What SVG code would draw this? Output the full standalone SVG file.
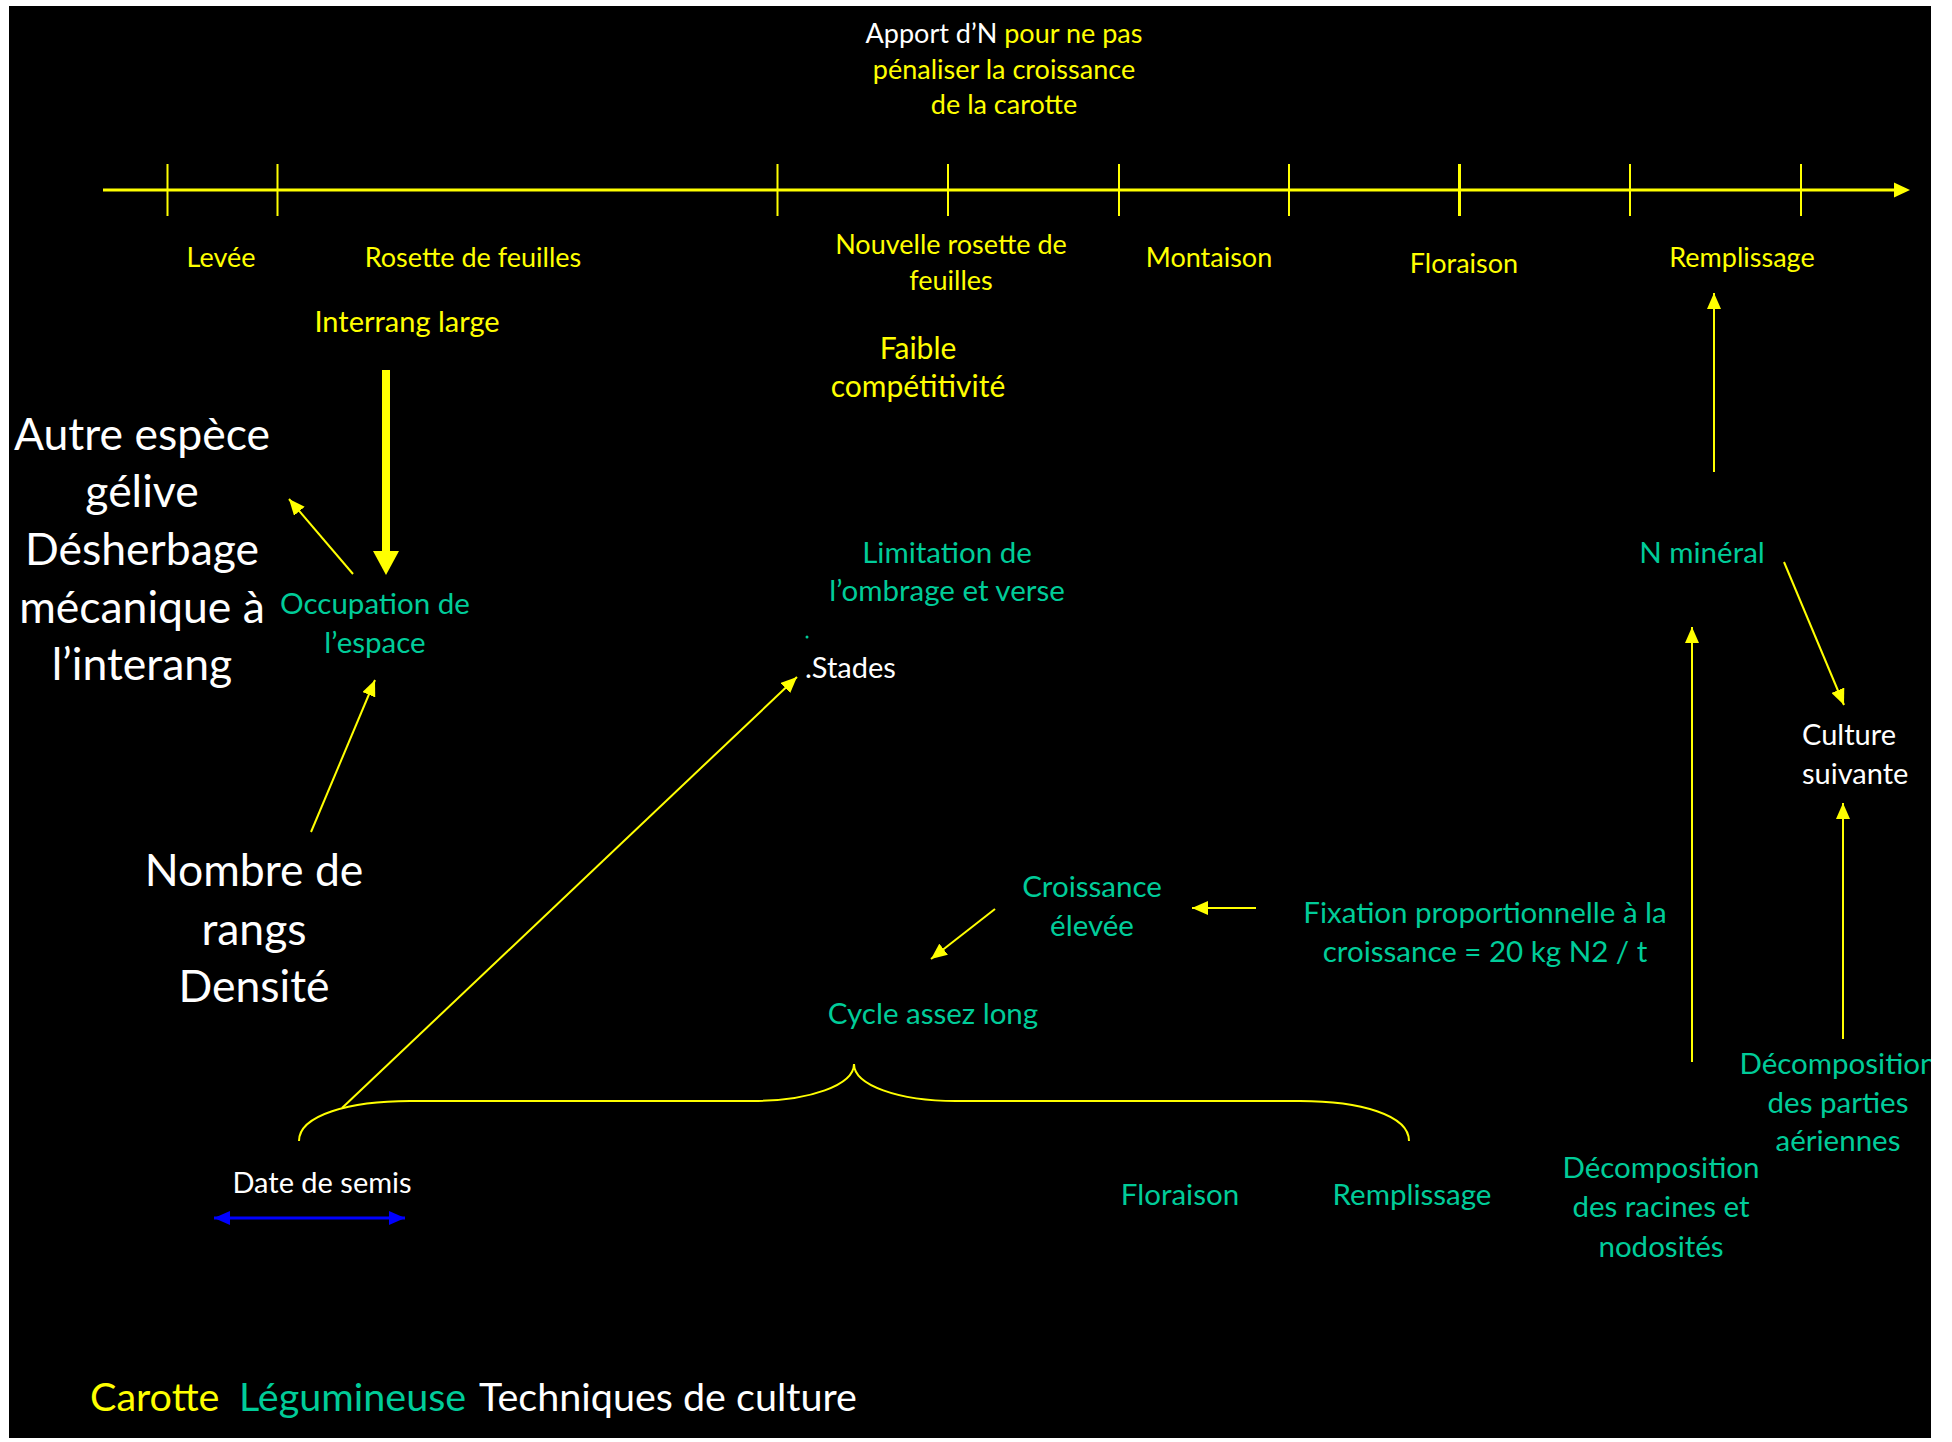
<svg xmlns="http://www.w3.org/2000/svg" width="1952" height="1442" viewBox="0 0 1952 1442">
<defs>
<style>
text{font-family:Lato,"Liberation Sans",sans-serif;}
.y{fill:#FFFF00;}
.g{fill:#00CC99;}
.w{fill:#FFFFFF;}
.c{text-anchor:middle;}
.s27{font-size:27px;}
.s29{font-size:29px;}
.s295{font-size:29.5px;}
.s30{font-size:30px;}
.big{font-size:44.5px;}
.leg{font-size:39.5px;}
.ln{stroke:#FFFF00;stroke-width:2;fill:none;}
</style>
<clipPath id="slide"><rect x="9" y="6" width="1922" height="1432"/></clipPath>
<marker id="ah" viewBox="0 0 16 14" refX="16" refY="7" markerWidth="16" markerHeight="14" orient="auto" markerUnits="userSpaceOnUse"><path d="M0,0 L16,7 L0,14 z" fill="#FFFF00"/></marker>
<marker id="ahb" viewBox="0 0 16 14" refX="16" refY="7" markerWidth="16" markerHeight="14" orient="auto-start-reverse" markerUnits="userSpaceOnUse"><path d="M0,0 L16,7 L0,14 z" fill="#0000FF"/></marker>
</defs>
<rect x="0" y="0" width="1952" height="1442" fill="#FFFFFF"/>
<rect x="9" y="6" width="1922" height="1432" fill="#000000"/>
<g clip-path="url(#slide)">
<g id="timeline">
<line x1="103" y1="190" x2="1896" y2="190" stroke="#FFFF00" stroke-width="3"/>
<path d="M1894,182.5 L1910,190 L1894,197.5 z" fill="#FFFF00"/>
<g stroke="#FFFF00" stroke-width="2">
<line x1="167.5" y1="164" x2="167.5" y2="216"/>
<line x1="277.5" y1="164" x2="277.5" y2="216"/>
<line x1="777.5" y1="164" x2="777.5" y2="216"/>
<line x1="948" y1="164" x2="948" y2="216"/>
<line x1="1119" y1="164" x2="1119" y2="216"/>
<line x1="1289" y1="164" x2="1289" y2="216"/>
<line x1="1459.5" y1="164" x2="1459.5" y2="216" stroke-width="3"/>
<line x1="1630" y1="164" x2="1630" y2="216"/>
<line x1="1801" y1="164" x2="1801" y2="216"/>
</g>
</g>
<g id="apport"><text class="c s27" x="1004" y="43"><tspan class="w">Apport d’N </tspan><tspan class="y">pour ne pas</tspan></text>
<text class="y c s27" x="1004" y="79">pénaliser la croissance</text>
<text class="y c s27" x="1004" y="114">de la carotte</text></g>
<g id="levee"><text class="y c s27" x="221" y="267">Levée</text></g>
<g id="rosette"><text class="y c s27" x="473" y="267">Rosette de feuilles</text></g>
<g id="nouvelle"><text class="y c s27" x="951" y="254">Nouvelle rosette de</text><text class="y c s27" x="951" y="290">feuilles</text></g>
<g id="montaison"><text class="y c s27" x="1209" y="267">Montaison</text></g>
<g id="floraison-c"><text class="y c s27" x="1464" y="273">Floraison</text></g>
<g id="remplissage-c"><text class="y c s27" x="1742" y="267">Remplissage</text></g>
<g id="interrang"><text class="y c s29" x="407" y="332">Interrang large</text></g>
<g id="faible"><text class="y c s30" x="918" y="359">Faible</text><text class="y c s30" x="918" y="397">compétitivité</text></g>
<g id="autre"><text class="w c big" x="142" y="450">Autre espèce</text>
<text class="w c big" x="142" y="507">gélive</text>
<text class="w c big" x="142" y="565">Désherbage</text>
<text class="w c big" x="142" y="623">mécanique à</text>
<text class="w c big" x="142" y="680">l’interang</text></g>
<g id="occupation"><text class="g c s295" x="375" y="614">Occupation de</text><text class="g c s295" x="375" y="653">l’espace</text></g>
<g id="nombre"><text class="w c big" x="254" y="886">Nombre de</text><text class="w c big" x="254" y="945">rangs</text><text class="w c big" x="254" y="1002">Densité</text></g>
<g id="limitation"><text class="g c s295" x="947" y="563">Limitation de</text><text class="g c s295" x="947" y="601">l’ombrage et verse</text></g>
<g id="stades"><circle cx="807" cy="637" r="1.5" fill="#00CC99"/><text class="w s29" x="805" y="678">.Stades</text></g>
<g id="croissance"><text class="g c s295" x="1092" y="897">Croissance</text><text class="g c s295" x="1092" y="936">élevée</text></g>
<g id="fixation"><text class="g c s295" x="1485" y="923">Fixation proportionnelle à la</text><text class="g c s295" x="1485" y="962">croissance = 20 kg N2 / t</text></g>
<g id="cycle"><text class="g c s295" x="933" y="1024">Cycle assez long</text></g>
<g id="date"><text class="w c s29" x="322" y="1193">Date de semis</text></g>
<g id="floraison-l"><text class="g c s295" x="1180" y="1205">Floraison</text></g>
<g id="remplissage-l"><text class="g c s295" x="1412" y="1205">Remplissage</text></g>
<g id="nmineral"><text class="g c s295" x="1702" y="563">N minéral</text></g>
<g id="culture"><text class="w s29" x="1802" y="745">Culture</text><text class="w s29" x="1802" y="784">suivante</text></g>
<g id="decomp-parties"><text class="g c s295" x="1838" y="1074">Décomposition</text><text class="g c s295" x="1838" y="1113">des parties</text><text class="g c s295" x="1838" y="1151">aériennes</text></g>
<g id="decomp-racines"><text class="g c s295" x="1661" y="1178">Décomposition</text><text class="g c s295" x="1661" y="1217">des racines et</text><text class="g c s295" x="1661" y="1257">nodosités</text></g>
<g id="legend"><text class="leg" y="1411"><tspan class="y" x="90">Carotte</tspan><tspan class="g" x="239">Légumineuse</tspan><tspan class="w" x="479">Techniques de culture</tspan></text></g>
<g id="connectors">
<line x1="386" y1="370" x2="386" y2="553" stroke="#FFFF00" stroke-width="8"/>
<path d="M373,551 L399,551 L386,575 z" fill="#FFFF00"/>
<line class="ln" x1="353" y1="574" x2="289" y2="499" marker-end="url(#ah)"/>
<line class="ln" x1="311" y1="832" x2="375" y2="680" marker-end="url(#ah)"/>
<line class="ln" x1="342" y1="1108" x2="797" y2="677" marker-end="url(#ah)"/>
<line class="ln" x1="1256" y1="908" x2="1192" y2="908" marker-end="url(#ah)"/>
<line class="ln" x1="995" y1="909" x2="931" y2="959" marker-end="url(#ah)"/>
<line class="ln" x1="1714" y1="472" x2="1714" y2="293" marker-end="url(#ah)"/>
<line class="ln" x1="1784" y1="562" x2="1844" y2="705" marker-end="url(#ah)"/>
<line class="ln" x1="1692" y1="1062" x2="1692" y2="627" marker-end="url(#ah)"/>
<line class="ln" x1="1843" y1="1039" x2="1843" y2="803" marker-end="url(#ah)"/>
<path class="ln" d="M299,1141 C299,1115 350,1101 410,1101 L752,1101 C810,1101 854,1085 854,1064 C854,1085 898,1101 956,1101 L1300,1101 C1360,1101 1409,1115 1409,1141"/>
<line x1="214" y1="1218" x2="405" y2="1218" stroke="#0000FF" stroke-width="3" marker-start="url(#ahb)" marker-end="url(#ahb)"/>
</g>
</g>
</svg>
